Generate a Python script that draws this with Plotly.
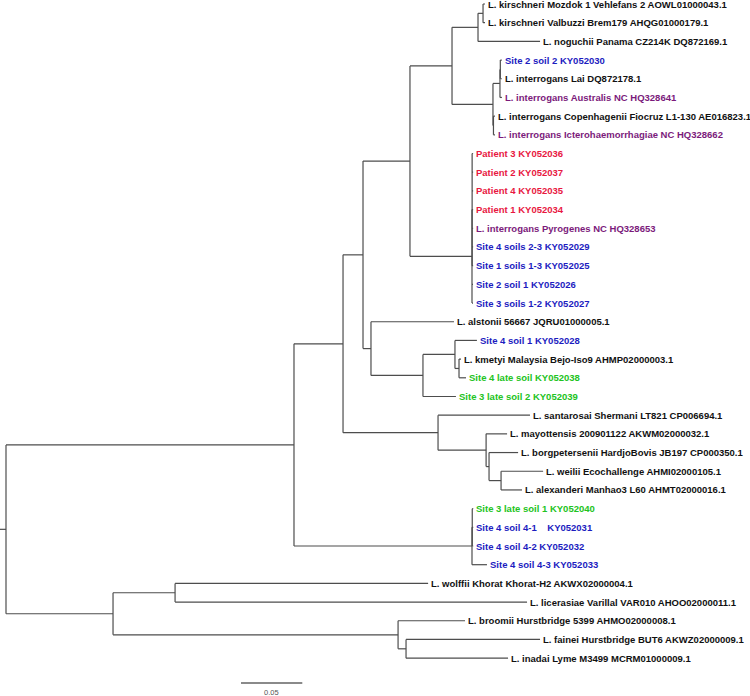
import plotly.graph_objects as go

# ---------------- data ----------------
leaf_names = [
    "L. kirschneri Mozdok 1 Vehlefans 2 AOWL01000043.1",
    "L. kirschneri Valbuzzi Brem179 AHQG01000179.1",
    "L. noguchii Panama CZ214K DQ872169.1",
    "Site 2 soil 2 KY052030",
    "L. interrogans Lai DQ872178.1",
    "L. interrogans Australis NC HQ328641",
    "L. interrogans Copenhagenii Fiocruz L1-130 AE016823.1",
    "L. interrogans Icterohaemorrhagiae NC HQ328662",
    "Patient 3 KY052036",
    "Patient 2 KY052037",
    "Patient 4 KY052035",
    "Patient 1 KY052034",
    "L. interrogans Pyrogenes NC HQ328653",
    "Site 4 soils 2-3 KY052029",
    "Site 1 soils 1-3 KY052025",
    "Site 2 soil 1 KY052026",
    "Site 3 soils 1-2 KY052027",
    "L. alstonii 56667 JQRU01000005.1",
    "Site 4 soil 1 KY052028",
    "L. kmetyi Malaysia Bejo-Iso9 AHMP02000003.1",
    "Site 4 late soil KY052038",
    "Site 3 late soil 2 KY052039",
    "L. santarosai Shermani LT821 CP006694.1",
    "L. mayottensis 200901122 AKWM02000032.1",
    "L. borgpetersenii HardjoBovis JB197 CP000350.1",
    "L. weilii Ecochallenge AHMI02000105.1",
    "L. alexanderi Manhao3 L60 AHMT02000016.1",
    "Site 3 late soil 1 KY052040",
    "Site 4 soil 4-1\u00a0\u00a0\u00a0\u00a0KY052031",
    "Site 4 soil 4-2 KY052032",
    "Site 4 soil 4-3 KY052033",
    "L. wolffii Khorat Khorat-H2 AKWX02000004.1",
    "L. licerasiae Varillal VAR010 AHOO02000011.1",
    "L. broomii Hurstbridge 5399 AHMO02000008.1",
    "L. fainei Hurstbridge BUT6 AKWZ02000009.1",
    "L. inadai Lyme M3499 MCRM01000009.1",
]

leaf_groups = [
    "ref", "ref", "ref", "soil", "ref", "ncref", "ref", "ncref",
    "patient", "patient", "patient", "patient", "ncref",
    "soil", "soil", "soil", "soil",
    "ref", "soil", "ref", "late", "late",
    "ref", "ref", "ref", "ref", "ref",
    "late", "soil", "soil", "soil",
    "ref", "ref", "ref", "ref", "ref",
]

group_colors = {
    "ref": "#111111",
    "ncref": "#7b1a7b",
    "patient": "#e8173f",
    "soil": "#1c1cbf",
    "late": "#22c322",
}

# tree topology with branch lengths (leaves referenced by index in leaf_names)
newick = (
    "(("
    "((("
    "(((0:0.0016,1:0.0016):0.0041,2:0.0506):0.0212,"
    "(((3:0.0012,4:0.0012):0.0003,5:0.0016):0.0057,(6:0.0012,7:0.0012):0.0004):0.0334):0.0343,"
    "((8:0.0008,9:0.0008,10:0.0008,11:0.0008,12:0.0008,13:0.0008,14:0.0008):0.0001,"
    "15:0.0008,16:0.0008):0.0506):0.0383,"
    "(17:0.0677,((18:0.0179,(19:0.0016,20:0.0057):0.0033):0.0261,21:0.0269):0.0424):0.0065"
    "):0.0163,"
    "(22:0.0750,(23:0.0171,(24:0.0237,(25:0.0343,26:0.0171):0.0098):0.0024):0.0392):0.0775"
    "):0.0400,"
    "((27:0.0008,28:0.0008,29:0.0008):0.0002,30:0.0122):0.1452"
    "):0.2349,"
    "((31:0.2064,32:0.2871):0.0506,(33:0.0546,(34:0.1093,35:0.0832):0.0065):0.2325):0.0873"
    "):0.0049;"
)

scale_bar_length = 0.05
scale_bar_label = "0.05"


# ---------------- parse tree ----------------
def parse(s, i=0):
    node = {"children": [], "name": None, "length": 0.0}
    if s[i] == "(":
        i += 1
        while True:
            child, i = parse(s, i)
            node["children"].append(child)
            if s[i] == ",":
                i += 1
            elif s[i] == ")":
                i += 1
                break
            else:
                raise ValueError("bad newick at %d" % i)
    j = i
    while s[i] not in ":,);":
        i += 1
    if i > j:
        node["name"] = s[j:i]
    if s[i] == ":":
        i += 1
        j = i
        while s[i] not in ",);":
            i += 1
        node["length"] = float(s[j:i])
    return node, i


root, _ = parse(newick)


def layout(node, parent_x):
    node["x0"] = parent_x
    node["x"] = parent_x + node["length"]
    if node["children"]:
        for c in node["children"]:
            layout(c, node["x"])
        node["y"] = (node["children"][0]["y"] + node["children"][-1]["y"]) / 2
    else:
        node["y"] = float(int(node["name"]))


layout(root, -root["length"])

xs, ys, tips = [], [], []


def collect(node):
    xs.extend([node["x0"], node["x"], None])
    ys.extend([node["y"], node["y"], None])
    if node["children"]:
        xs.extend([node["x"], node["x"], None])
        ys.extend([node["children"][0]["y"], node["children"][-1]["y"], None])
        for c in node["children"]:
            collect(c)
    else:
        tips.append(node)


collect(root)

fig = go.Figure()
fig.add_trace(go.Scatter(
    x=xs, y=ys, mode="lines",
    line=dict(color="#4d4d4d", width=1.2),
    hoverinfo="skip", showlegend=False,
))

annotations = []
for t in tips:
    k = int(t["name"])
    annotations.append(dict(
        x=t["x"], y=t["y"], xref="x", yref="y",
        text=leaf_names[k], showarrow=False,
        xanchor="left", yanchor="middle", xshift=2, borderpad=0,
        font=dict(family="Arial, Liberation Sans, sans-serif", size=9.5,
                  color=group_colors[leaf_groups[k]], weight="bold"),
    ))

# scale bar
px_per_unit = 1226.0
leaf_px = 18.69
top_px = 4.0
sb_x0 = (241 - 6) / px_per_unit
sb_y = (683 - top_px) / leaf_px
fig.add_trace(go.Scatter(
    x=[sb_x0, sb_x0 + scale_bar_length], y=[sb_y, sb_y], mode="lines",
    line=dict(color="#8a8a8a", width=2), hoverinfo="skip", showlegend=False,
))
annotations.append(dict(
    x=sb_x0 + scale_bar_length / 2, y=(692 - top_px) / leaf_px,
    xref="x", yref="y", text=scale_bar_label, showarrow=False,
    xanchor="center", yanchor="middle",
    font=dict(family="Arial, Liberation Sans, sans-serif", size=7.5, color="#555555"),
))

W, H = 750, 696
fig.update_layout(
    width=W, height=H,
    margin=dict(l=0, r=0, t=0, b=0),
    paper_bgcolor="white", plot_bgcolor="white",
    annotations=annotations,
    xaxis=dict(range=[-6 / px_per_unit, (W - 6) / px_per_unit], visible=False, fixedrange=True),
    yaxis=dict(range=[(H - top_px) / leaf_px, -top_px / leaf_px], visible=False, fixedrange=True),
)

fig.write_html(
    "out.html",
    config={"displayModeBar": False},
    post_script="document.body.style.margin='0px';document.body.style.overflow='hidden';",
)
